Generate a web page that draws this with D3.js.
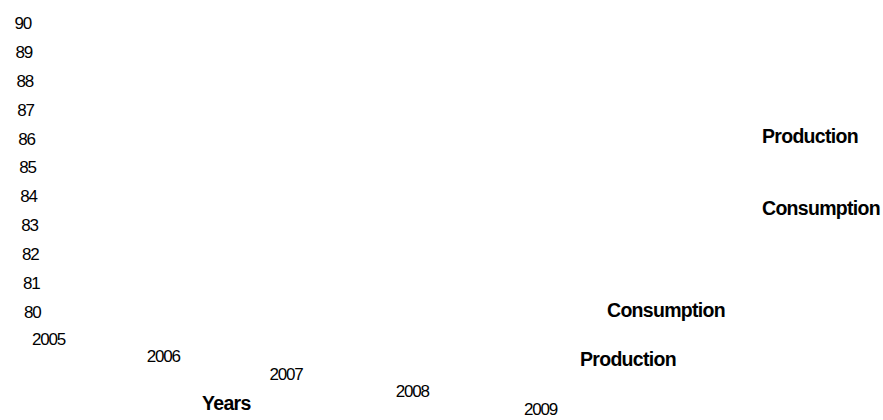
<!DOCTYPE html>
<html>
<head>
<meta charset="utf-8">
<script src="https://cdn.jsdelivr.net/npm/d3@7"></script>
<style>
  body { margin: 0; background: #fff; }
  svg text { font-family: "Liberation Sans", Arial, sans-serif; fill: #000; }
  .tick-label { font-size: 17px; letter-spacing: -1.2px; }
  .bold-label { font-size: 19.5px; font-weight: bold; letter-spacing: -0.7px; }
</style>
</head>
<body>
<div id="chart"></div>
<script>
// chart data
var years = [2005, 2006, 2007, 2008, 2009];
var yTicks = [90, 89, 88, 87, 86, 85, 84, 83, 82, 81, 80];
var seriesNames = ["Production", "Consumption"];
var xTitle = "Years";

var width = 883, height = 420;

var svg = d3.select("#chart").append("svg")
    .attr("width", width)
    .attr("height", height);

//y axis labels - they drift right a little on the way down
var y = d3.scaleLinear().domain([80, 90]).range([312, 23]);
var yDrift = d3.scaleLinear().domain([90, 80]).range([31, 40.5]);

svg.append("g").selectAll("text")
  .data(yTicks)
  .enter().append("text")
    .attr("class", "tick-label")
    .attr("text-anchor", "end")
    .attr("x", function (d) { return yDrift(d); })
    .attr("y", function (d) { return y(d); })
    .attr("dy", "0.35em")
    .text(function (d) { return d; });

//x axis labels run down to the right, spacing opens up slightly
var x = d3.scalePow().exponent(1.05).domain([0, 4]).range([48.5, 540.5]);
var xDrop = d3.scaleLinear().domain([0, 4]).range([339, 409]);

svg.append("g").selectAll("text")
  .data(years)
  .enter().append("text")
    .attr("class", "tick-label")
    .attr("text-anchor", "middle")
    .attr("x", function (d, i) { return x(i); })
    .attr("y", function (d, i) { return xDrop(i); })
    .attr("dy", "0.35em")
    .text(function (d) { return d; });

svg.append("text")
    .attr("class", "bold-label")
    .attr("x", 202)
    .attr("y", 410)
    .text(xTitle);

//two legends, one right side, one lower (order flipped)
var legends = [
  { names: seriesNames, pos: [[762, 143], [762, 215]] },
  { names: seriesNames.slice().reverse(), pos: [[607, 317], [580, 366]] }
];

legends.forEach(function (lg) {
  svg.append("g").selectAll("text")
    .data(lg.names)
    .enter().append("text")
      .attr("class", "bold-label")
      .attr("x", function (d, i) { return lg.pos[i][0]; })
      .attr("y", function (d, i) { return lg.pos[i][1]; })
      .text(function (d) { return d; });
});
</script>
</body>
</html>
